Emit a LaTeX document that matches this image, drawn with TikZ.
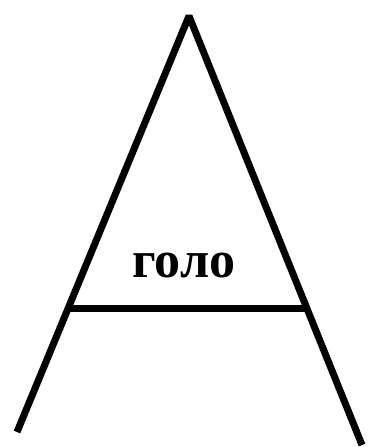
\documentclass[tikz,border=0pt]{standalone}
\usepackage{fontspec}
\setmainfont{Liberation Serif}
\begin{document}
\begin{tikzpicture}[x=1pt,y=-1pt,
  leg/.style={line width=7pt,line join=bevel},
  lbl/.style={font=\fontsize{52}{54}\selectfont\bfseries,inner sep=0pt}]
\useasboundingbox (0,0) rectangle (368,447);
\coordinate (L) at (17,432);
\coordinate (T) at (189,16);
\coordinate (R) at (362,445);
\coordinate (bl) at (70,308);
\coordinate (br) at (305,308);
\draw[leg] (L) -- (T) -- (R);
\draw[leg] (bl) -- (br);
\node[lbl] (t) at (184,265) {голо};
\end{tikzpicture}
\end{document}
